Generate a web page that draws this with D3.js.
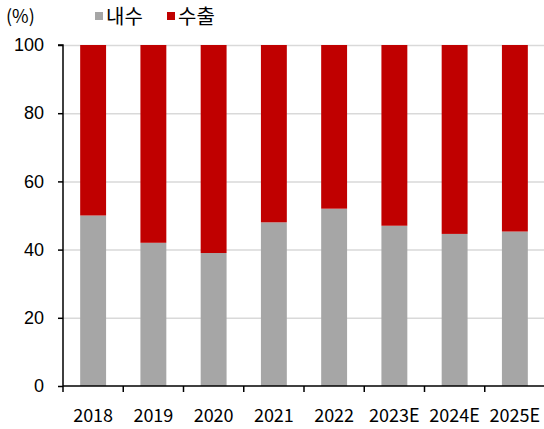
<!DOCTYPE html>
<meta charset="utf-8">
<style>
body { margin: 0; background: #fff; }
svg { font-family: "Noto Sans CJK KR", "Noto Sans", sans-serif; }
.grid line { stroke: #d9d9d9; stroke-width: 1.5px; }
.grid path { stroke-width: 0; }
.axis { font-size: 18px; }
.axis path, .axis line { stroke: #000; stroke-width: 1.5px; }
</style>
<body>
<script src="https://d3js.org/d3.v7.min.js"></script>
<script>

// data
var years = ["2018", "2019", "2020", "2021", "2022", "2023E", "2024E", "2025E"];
var domestic = [50, 42, 39, 48, 52, 47, 44.6, 45.3];   // 내수
var exportShare = [50, 58, 61, 52, 48, 53, 55.4, 54.7]; // 수출
var yTicks = [0, 20, 40, 60, 80, 100];
var seriesNames = ["내수", "수출"];
var colors = ["#a6a6a6", "#c00000"];

var margin = {top: 45, right: 0, bottom: 43, left: 63},
    width = 544 - margin.left - margin.right,
    height = 429 - margin.top - margin.bottom;

var svg = d3.select("body").append("svg")
    .attr("width", 544)
    .attr("height", 429);

var g = svg.append("g")
    .attr("transform", "translate(" + margin.left + "," + margin.top + ")");

var x = d3.scaleBand().domain(years).range([0, width + 1]).paddingInner(0.57).paddingOuter(0.285);
var y = d3.scaleLinear().domain([0, 100]).range([height, 0]);

// gridlines
g.append("g")
    .attr("class", "grid")
    .call(d3.axisLeft(y).tickValues(yTicks).tickSize(-width).tickFormat(""))
    .selectAll("line").filter(function(d) { return d === 0; }).remove();

// stacked bars
var rows = years.map(function(yr, i) { return {year: yr, d: domestic[i], e: exportShare[i]}; });
var stack = d3.stack().keys(["d", "e"])(rows);

g.selectAll(".series")
    .data(stack)
    .enter().append("g")
    .attr("fill", function(s, i) { return colors[i]; })
    .selectAll("rect")
    .data(function(s) { return s; })
    .enter().append("rect")
    .attr("x", function(d) { return x(d.data.year); })
    .attr("width", x.bandwidth())
    .attr("y", function(d) { return y(d[1]); })
    .attr("height", function(d) { return y(d[0]) - y(d[1]); });

// y axis
var ya = g.append("g")
    .attr("class", "axis")
    .call(d3.axisLeft(y).tickValues(yTicks).tickSize(5).tickPadding(14));
ya.select(".domain").attr("d", "M-5,0H0V" + height);

// x axis with ticks at category boundaries
var step = x.step();
var xa = g.append("g")
    .attr("class", "axis")
    .attr("transform", "translate(0," + height + ")");
xa.append("path")
    .attr("d", "M0,0H" + (width + 1))
    .attr("stroke", "#000").attr("stroke-width", 1.5);
xa.selectAll(".tk")
    .data(years)
    .enter().append("line")
    .attr("x1", function(d, i) { return i * step; })
    .attr("x2", function(d, i) { return i * step; })
    .attr("y1", 0).attr("y2", 6);
xa.selectAll("text")
    .data(years)
    .enter().append("text")
    .attr("x", function(d) { return x(d) + x.bandwidth() / 2; })
    .attr("y", 36)
    .attr("text-anchor", "middle")
    .attr("fill", "#000")
    .text(function(d) { return d; });

// unit label
svg.append("text")
    .attr("x", 6).attr("y", 23)
    .attr("font-size", 18)
    .text("(%)");

// legend
var legendX = [95, 167];
var lg = svg.selectAll(".legend")
    .data(seriesNames)
    .enter().append("g")
    .attr("transform", function(d, i) { return "translate(" + legendX[i] + ",0)"; });
lg.append("rect")
    .attr("x", 0).attr("y", 12)
    .attr("width", 8).attr("height", 8)
    .attr("fill", function(d, i) { return colors[i]; });
lg.append("text")
    .attr("x", 11).attr("y", 24)
    .attr("font-size", 20)
    .text(function(d) { return d; });

</script>
</body>
